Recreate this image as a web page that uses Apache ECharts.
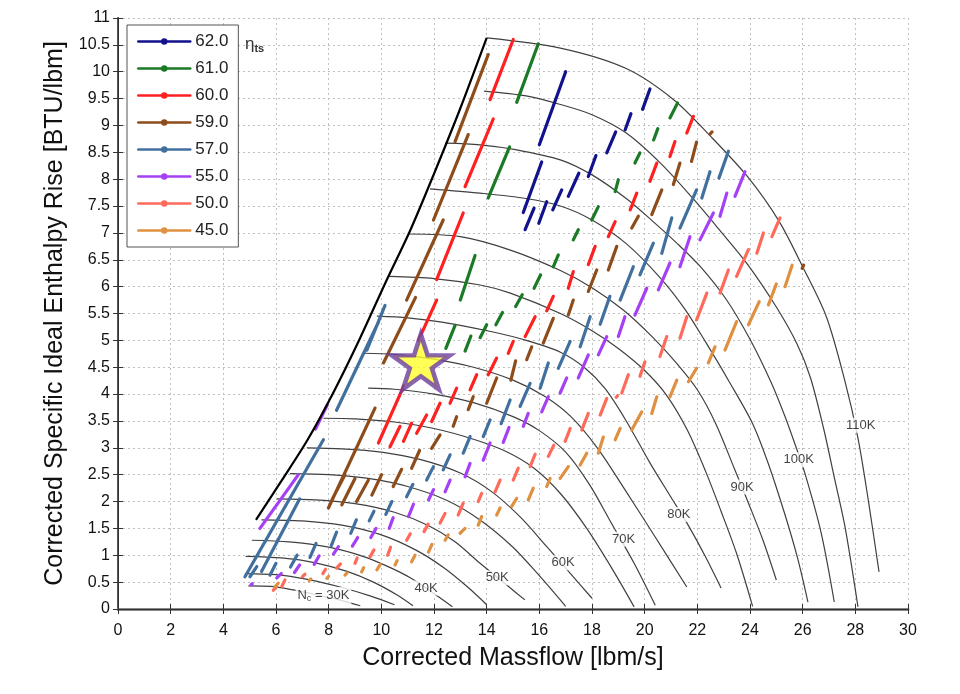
<!DOCTYPE html>
<html><head><meta charset="utf-8">
<script src="https://cdn.jsdelivr.net/npm/echarts@6/dist/echarts.min.js"></script>
<style>html,body{margin:0;padding:0;background:#fff}#c{width:960px;height:694px}</style>
</head><body><div id="c"></div>
<script>
// ---------- categories / legend ----------
const effNames  = ['62.0','61.0','60.0','59.0','57.0','55.0','50.0','45.0'];
const effColors = ['#12128c','#1b7a26','#ff2020','#8e4c1b','#41709f','#a640f5','#ff6b5b','#df9040'];

// ---------- tick labels ----------
const xTicks = [0,2,4,6,8,10,12,14,16,18,20,22,24,26,28,30];
const yTicks = [0,0.5,1,1.5,2,2.5,3,3.5,4,4.5,5,5.5,6,6.5,7,7.5,8,8.5,9,9.5,10,10.5,11];

// ---------- surge line ----------
const surgeLine = [[5.24,1.66],[6.2,2.38],[7.2,3.15],[8.2,4.05],[9.2,5.05],[10.2,6.12],[11.1,7.05],[12.0,8.1],[13.0,9.32],[14.0,10.63]];

// ---------- corrected speed lines ----------
const spd01 = [[14.0,10.63],[16.8,10.44],[19.3,10.06],[21.1,9.48],[22.5,8.8],[23.9,8.05],[25.1,7.22],[26.0,6.37],[26.9,5.44],[27.6,4.25],[28.1,3.18],[28.5,2.0],[28.9,0.69]];
const spd02 = [[13.9,9.64],[15.5,9.55],[16.8,9.39],[18.0,9.2],[19.3,8.86],[20.6,8.3],[21.8,7.66],[22.8,7.08],[23.9,6.42],[25.0,5.62],[25.8,4.92],[26.3,4.3],[26.8,3.35],[27.2,2.45],[27.6,1.55],[28.1,0.04]];
const spd03 = [[12.42,8.67],[13.75,8.64],[15.1,8.55],[16.8,8.36],[18.0,8.08],[19.3,7.64],[20.3,7.22],[21.2,6.82],[22.1,6.38],[23.1,5.76],[24.0,5.02],[24.8,4.22],[25.3,3.62],[25.7,3.08],[26.1,2.5],[26.7,1.42],[27.2,0.13]];
const spd04 = [[11.85,7.82],[13.75,7.74],[15.5,7.64],[16.8,7.5],[18.0,7.24],[19.3,6.8],[20.6,6.16],[21.5,5.6],[22.3,4.98],[23.2,4.24],[24.1,3.45],[24.7,2.7],[25.3,1.8],[25.8,0.96],[26.2,0.13]];
const spd05 = [[11.05,6.98],[13.0,6.93],[14.9,6.68],[16.8,6.3],[18.0,5.98],[19.2,5.56],[20.3,5.06],[21.2,4.58],[22.0,4.08],[22.7,3.45],[23.4,2.62],[24.0,1.9],[24.5,1.27],[25.0,0.54]];
const spd06 = [[10.3,6.19],[12.0,6.15],[13.75,6.03],[14.9,5.88],[16.8,5.5],[18.0,5.18],[19.0,4.85],[20.0,4.44],[20.8,4.0],[21.6,3.35],[22.3,2.58],[22.9,1.82],[23.5,1.02],[24.1,0.05]];
const spd07 = [[9.83,5.45],[11.0,5.42],[12.3,5.34],[14.2,5.16],[15.5,5.0],[16.8,4.78],[17.7,4.5],[18.5,4.1],[19.3,3.5],[20.2,2.72],[21.0,2.08],[21.7,1.52],[22.3,0.98],[22.9,0.39]];
const spd08 = [[9.3,4.76],[10.5,4.74],[12.0,4.65],[13.5,4.5],[15.0,4.26],[16.2,3.96],[17.2,3.58],[18.2,3.0],[19.2,2.26],[20.4,1.34],[21.6,0.41]];
const spd09 = [[9.5,4.11],[10.5,4.09],[12.0,4.0],[13.5,3.84],[15.0,3.58],[16.0,3.32],[17.0,2.92],[17.9,2.32],[18.7,1.63],[19.6,0.85],[20.4,0.07]];
const spd10 = [[7.8,3.55],[9.0,3.54],[10.5,3.48],[12.0,3.36],[13.5,3.16],[14.7,2.94],[15.8,2.62],[16.8,2.15],[17.8,1.5],[18.8,0.72],[19.6,0.04]];
const spd11 = [[7.17,3.0],[8.5,2.98],[10.0,2.92],[11.5,2.78],[13.0,2.53],[14.2,2.18],[15.3,1.7],[16.3,1.15],[17.2,0.65],[18.0,0.2]];
const spd12 = [[6.53,2.52],[8.0,2.5],[9.5,2.43],[11.0,2.28],[12.5,2.02],[13.8,1.64],[15.0,1.15],[16.0,0.62],[17.0,0.05]];
const spd13 = [[6.03,2.05],[7.5,2.03],[9.0,1.96],[10.5,1.8],[11.8,1.55],[12.8,1.25],[13.75,0.85],[14.9,0.39],[15.45,0.17]];
const spd14 = [[5.45,1.66],[7.0,1.64],[8.5,1.56],[10.0,1.38],[11.3,1.1],[12.4,0.76],[13.3,0.4],[14.0,0.08]];
const spd15 = [[5.08,1.28],[6.5,1.25],[8.0,1.15],[9.3,0.98],[10.3,0.78],[11.1,0.58],[12.2,0.22],[12.7,0.04]];
const spd16 = [[4.85,0.98],[6.2,0.95],[7.5,0.86],[8.7,0.7],[9.7,0.5],[10.6,0.26],[11.2,0.06]];
const spd17 = [[4.82,0.66],[6.0,0.64],[7.2,0.55],[8.5,0.4],[9.6,0.24],[10.5,0.08]];
const spd18 = [[4.95,0.43],[5.8,0.42],[6.6,0.36],[7.5,0.27],[8.4,0.17],[9.2,0.06]];

// ---------- speed labels ----------
const speedLabelText = ['110K','100K','90K','80K','70K','60K','50K','40K','N{s|c} = 30K'];
const speedLabelX    = [28.2, 25.85, 23.7, 21.3, 19.2, 16.9, 14.4, 11.7, 7.8];
const speedLabelY    = [3.42, 2.78, 2.27, 1.76, 1.3, 0.86, 0.58, 0.39, 0.25];

// ---------- efficiency dashes: [x1,y1,x2,y2] ----------
const eff62 = [[16.0,8.64,17.0,10.0],[15.39,7.38,16.09,8.32],[15.46,7.06,15.8,7.46],[15.98,7.18,16.28,7.58],[16.51,7.43,16.85,7.8],[17.1,7.68,17.5,8.11],[17.86,8.05,18.15,8.44],[18.56,8.49,18.9,8.88],[19.26,8.92,19.48,9.22],[19.92,9.3,20.2,9.68]];
const eff61 = [[15.14,9.43,15.96,10.52],[14.06,7.65,14.87,8.6],[13.0,5.75,13.56,6.58],[20.96,9.14,21.25,9.42],[20.34,8.73,20.5,8.94],[19.63,8.3,19.82,8.49],[18.88,7.77,19.0,7.99],[17.99,7.24,18.24,7.49],[17.29,6.87,17.48,7.06],[16.53,6.37,16.72,6.59],[15.8,5.97,16.05,6.22],[15.1,5.63,15.35,5.85],[14.35,5.29,14.6,5.52],[13.75,5.05,14.0,5.29],[13.18,4.8,13.4,5.08],[12.45,4.85,12.8,5.28]];
const eff60 = [[14.13,9.48,15.01,10.6],[13.18,7.86,14.25,9.12],[12.1,6.13,13.11,7.37],[11.41,5.0,12.1,5.75],[9.89,3.09,10.85,4.15],[10.33,3.02,10.71,3.4],[10.84,3.12,11.15,3.46],[11.34,3.27,11.72,3.61],[11.91,3.49,12.23,3.83],[12.61,3.83,12.86,4.11],[13.37,4.08,13.62,4.36],[14.06,4.36,14.38,4.67],[14.82,4.76,15.01,4.98],[15.46,5.07,15.84,5.44],[16.28,5.55,16.53,5.82],[17.1,5.97,17.29,6.28],[17.86,6.41,18.12,6.75],[18.62,6.93,18.88,7.21],[19.45,7.43,19.7,7.74],[20.2,7.96,20.46,8.3],[20.96,8.42,21.15,8.7],[21.6,8.86,21.85,9.17]];
const eff59 = [[12.8,8.7,14.06,10.32],[11.98,7.24,13.3,8.83],[10.96,5.75,12.35,7.24],[10.08,4.58,11.3,5.8],[7.99,1.88,9.76,3.74],[8.12,2.03,8.62,2.5],[8.5,1.94,9.0,2.43],[9.06,2.0,9.51,2.4],[9.64,2.12,10.01,2.5],[10.45,2.28,10.77,2.6],[11.15,2.62,11.45,2.95],[11.91,2.99,12.23,3.24],[12.73,3.4,12.86,3.58],[13.3,3.71,13.49,3.95],[14.0,3.83,14.38,4.3],[14.92,4.26,15.1,4.62],[15.52,4.64,15.71,4.88],[16.15,4.95,16.53,5.41],[17.1,5.47,17.29,5.75],[17.86,5.91,18.18,6.31],[18.62,6.31,18.94,6.75],[19.51,7.09,19.76,7.31],[20.27,7.34,20.65,7.8],[21.09,7.9,21.34,8.3],[21.78,8.33,21.97,8.69],[22.48,8.84,22.56,8.88],[25.98,6.34,26.04,6.4]];
const eff57 = [[9.45,4.82,10.14,5.65],[8.3,3.7,9.9,5.35],[4.82,0.6,7.8,3.15],[5.45,0.7,6.9,2.05],[5.01,0.6,5.27,0.79],[5.77,0.63,6.0,0.85],[6.55,0.78,6.8,1.0],[7.29,0.96,7.52,1.22],[8.1,1.18,8.3,1.43],[8.84,1.41,9.05,1.66],[9.54,1.64,9.72,1.82],[10.17,1.76,10.4,2.0],[10.96,2.09,11.2,2.32],[11.72,2.4,11.98,2.65],[12.35,2.59,12.61,2.87],[13.11,2.9,13.37,3.21],[13.87,3.21,14.13,3.52],[14.55,3.45,14.89,3.89],[15.27,3.77,15.65,4.2],[16.03,4.11,16.34,4.58],[16.72,4.48,17.17,4.98],[17.55,4.88,17.93,5.44],[18.31,5.3,18.68,5.82],[19.07,5.75,19.57,6.37],[19.82,6.22,20.33,6.81],[20.65,6.62,21.03,7.28],[21.34,7.09,21.97,7.8],[22.17,7.65,22.48,8.14],[22.82,8.02,23.18,8.52]];
const eff55 = [[5.39,1.5,6.85,2.5],[7.5,3.35,7.95,3.8],[6.03,0.58,6.2,0.66],[6.7,0.68,6.9,0.82],[7.45,0.83,7.64,0.99],[8.18,1.02,8.37,1.16],[8.9,1.17,9.1,1.33],[9.6,1.33,9.8,1.5],[10.3,1.5,10.45,1.7],[11.03,1.72,11.22,1.95],[11.79,2.03,11.98,2.22],[12.42,2.18,12.61,2.4],[13.18,2.46,13.37,2.71],[13.87,2.77,14.13,3.09],[14.63,3.1,14.85,3.38],[15.39,3.4,15.58,3.64],[16.09,3.67,16.34,3.95],[16.79,4.02,17.04,4.3],[17.48,4.3,17.86,4.73],[18.24,4.73,18.56,5.07],[19.0,5.07,19.25,5.44],[19.63,5.47,20.08,5.97],[20.52,5.94,20.96,6.44],[21.34,6.37,21.72,6.93],[22.1,6.87,22.61,7.37],[22.86,7.31,23.12,7.74],[23.43,7.68,23.81,8.14],[5.05,0.45,5.1,0.47]];
const eff50 = [[5.9,0.35,6.03,0.42],[6.22,0.42,6.34,0.54],[7.0,0.6,7.1,0.65],[7.78,0.66,7.88,0.74],[8.3,0.76,8.45,0.84],[9.0,0.85,9.08,0.95],[9.57,0.97,9.72,1.1],[10.24,1.0,10.35,1.15],[10.96,1.28,11.1,1.4],[11.62,1.44,11.78,1.58],[12.23,1.6,12.42,1.78],[12.92,1.75,13.11,1.97],[13.68,2.0,13.81,2.15],[14.32,2.18,14.51,2.4],[15.01,2.4,15.2,2.62],[15.65,2.65,15.84,2.88],[16.34,2.84,16.55,3.05],[16.98,3.12,17.17,3.36],[17.61,3.33,17.86,3.64],[18.31,3.61,18.56,3.92],[18.92,3.94,18.97,3.97],[19.13,4.02,19.38,4.36],[19.82,4.33,20.01,4.6],[20.58,4.7,20.84,5.07],[21.34,5.04,21.6,5.44],[21.97,5.38,22.36,5.88],[22.86,5.88,23.18,6.31],[23.49,6.19,23.94,6.69],[24.26,6.62,24.51,7.0],[24.83,6.93,25.14,7.28]];
const eff45 = [[5.96,0.41,6.08,0.48],[7.26,0.53,7.32,0.56],[7.93,0.57,8.0,0.61],[8.62,0.63,8.7,0.67],[9.25,0.69,9.33,0.77],[9.83,0.73,9.96,0.83],[10.52,0.82,10.6,0.9],[11.15,0.88,11.28,1.0],[11.79,1.06,11.92,1.2],[12.42,1.28,12.54,1.38],[12.99,1.41,13.18,1.5],[13.68,1.56,13.81,1.72],[14.38,1.75,14.51,1.88],[14.95,1.91,15.14,2.06],[15.58,2.03,15.77,2.25],[16.28,2.28,16.41,2.43],[16.79,2.43,17.1,2.65],[17.55,2.68,17.8,2.9],[18.24,2.9,18.43,3.2],[18.88,3.15,19.07,3.36],[19.51,3.33,19.89,3.67],[20.27,3.64,20.46,3.95],[20.96,3.95,21.22,4.26],[21.66,4.23,21.97,4.48],[22.42,4.58,22.67,4.88],[23.05,4.82,23.49,5.35],[23.94,5.29,24.35,5.72],[24.7,5.66,25.0,6.05],[25.33,6.0,25.6,6.4]];

// ---------- design point ----------
const designPoint = [11.5, 4.6];

// ---------- build ----------
const effSegs = [eff62, eff61, eff60, eff59, eff57, eff55, eff50, eff45];
const speedLines = [spd01,spd02,spd03,spd04,spd05,spd06,spd07,spd08,spd09,spd10,spd11,spd12,spd13,spd14,spd15,spd16,spd17,spd18];
const GAP = ['-','-'];
function joinPaths(paths){ const d=[]; paths.forEach((p,i)=>{ if(i) d.push(GAP); p.forEach(pt=>d.push(pt)); }); return d; }
function segPaths(segs){ return segs.map(s=>[[s[0],s[1]],[s[2],s[3]]]); }

const FONT = 'Liberation Sans';
const series = [];
series.push({
  name:'speed', type:'line', data: joinPaths(speedLines), smooth:0.3, symbol:'none',
  lineStyle:{color:'#404040', width:1.2}, z:2, silent:true, animation:false
});
effNames.forEach((n,i)=>{
  series.push({
    name:n, type:'line', data: joinPaths(segPaths(effSegs[i])), symbol:'circle', symbolSize:5, showSymbol:false,
    color: effColors[i], lineStyle:{color:effColors[i], width:3.2, cap:'round'}, z:3, silent:true, animation:false
  });
});
series.push({
  name:'surge', type:'line', data: surgeLine, smooth:0.3, symbol:'none',
  lineStyle:{color:'#000', width:2.2}, z:4, silent:true, animation:false
});
series.push({
  name:'labels', type:'scatter', symbolSize:0, z:5, silent:true, animation:false,
  data: speedLabelX.map((x,i)=>({value:[x, speedLabelY[i]], label:{formatter: speedLabelText[i]}})),
  label:{show:true, position:'inside', color:'#111', fontFamily:FONT, fontSize:13,
    backgroundColor:'#fff', padding:[1,2],
    rich:{s:{fontSize:9, verticalAlign:'bottom', padding:[6,0,0,0], fontFamily:FONT, color:'#111'}}}
});
series.push({
  name:'design', type:'scatter', z:6, silent:true, animation:false,
  data:[designPoint],
  symbol:'path://M50,0 L61.2,34.5 L97.6,34.5 L68.2,55.9 L79.4,90.5 L50,69.1 L20.6,90.5 L31.8,55.9 L2.4,34.5 L38.8,34.5 Z',
  symbolSize:[58,55],
  itemStyle:{color:'#ffff2e', borderColor:'#6d3da3', borderWidth:4.5}
});

const chart = echarts.init(document.getElementById('c'), null, {renderer:'canvas'});
chart.setOption({
  animation:false,
  backgroundColor:'#fff',
  grid:{left:118, right:52, top:18, bottom:85, containLabel:false},
  title:{text:'{a|η}{b|ts}', left:240, top:30,
    textStyle:{rich:{a:{fontSize:17, fontWeight:'normal', color:'#333', fontFamily:FONT},
                     b:{fontSize:11, fontWeight:'bold', color:'#333', fontFamily:FONT, padding:[8,0,0,0]}}}},
  legend:{
    data: effNames, orient:'vertical', left:127, top:25,
    itemWidth:52, itemHeight:8, itemGap:10, padding:[8,10,8,10],
    borderColor:'#555', borderWidth:1, backgroundColor:'#fff',
    lineStyle:{width:2.5},
    textStyle:{fontSize:17, lineHeight:17, color:'#222', fontFamily:FONT},
    selectedMode:false
  },
  xAxis:[{
    type:'value', min:0, max:30, interval:2, position:'bottom',
    name:'Corrected Massflow [lbm/s]', nameLocation:'middle', nameGap:37,
    nameTextStyle:{fontSize:25, color:'#111', fontFamily:FONT},
    axisLine:{show:true, lineStyle:{color:'#888', width:3}},
    axisTick:{show:true, inside:true, length:5, lineStyle:{color:'#333'}},
    axisLabel:{margin:14, fontSize:16, color:'#111', fontFamily:FONT,
      formatter:(v)=> xTicks.indexOf(v) >= 0 ? String(v) : ''},
    splitLine:{show:true, lineStyle:{color:'#c0c0c0', type:[2,3], width:1}}
  },{
    type:'value', min:0, max:30, interval:2, position:'top',
    axisLine:{show:true, lineStyle:{color:'#333', width:1}},
    axisTick:{show:true, inside:true, length:5, lineStyle:{color:'#333'}},
    axisLabel:{show:false}, splitLine:{show:false}
  }],
  yAxis:[{
    type:'value', min:0, max:11, interval:0.5, position:'left',
    name:'Corrected Specific Ideal Enthalpy Rise [BTU/lbm]', nameLocation:'middle', nameGap:41,
    nameTextStyle:{fontSize:25, color:'#111', fontFamily:FONT},
    axisLine:{show:true, lineStyle:{color:'#555', width:2}},
    axisTick:{show:true, inside:true, length:5, lineStyle:{color:'#333'}},
    axisLabel:{margin:8, fontSize:16, color:'#111', fontFamily:FONT,
      formatter:(v)=> yTicks.indexOf(v) >= 0 ? String(v) : ''},
    splitLine:{show:true, lineStyle:{color:'#c0c0c0', type:[2,3], width:1}}
  },{
    type:'value', min:0, max:11, interval:0.5, position:'right',
    axisLine:{show:true, lineStyle:{color:'#333', width:1}},
    axisTick:{show:true, inside:true, length:5, lineStyle:{color:'#333'}},
    axisLabel:{show:false}, splitLine:{show:false}
  }],
  series: series
});
</script>
</body></html>
